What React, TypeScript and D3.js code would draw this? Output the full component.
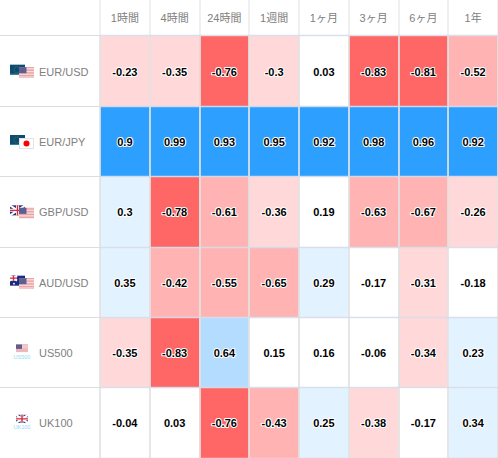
import React from "react";
import * as d3 from "d3";

const columns = ["1時間", "4時間", "24時間", "1週間", "1ヶ月", "3ヶ月", "6ヶ月", "1年"];
const symbols = ["EUR/USD", "EUR/JPY", "GBP/USD", "AUD/USD", "US500", "UK100"];
const eurUsd = [-0.23, -0.35, -0.76, -0.3, 0.03, -0.83, -0.81, -0.52];
const eurJpy = [0.9, 0.99, 0.93, 0.95, 0.92, 0.98, 0.96, 0.92];
const gbpUsd = [0.3, -0.78, -0.61, -0.36, 0.19, -0.63, -0.67, -0.26];
const audUsd = [0.35, -0.42, -0.55, -0.65, 0.29, -0.17, -0.31, -0.18];
const us500 = [-0.35, -0.83, 0.64, 0.15, 0.16, -0.06, -0.34, 0.23];
const uk100 = [-0.04, 0.03, -0.76, -0.43, 0.25, -0.38, -0.17, 0.34];
const rows = [eurUsd, eurJpy, gbpUsd, audUsd, us500, uk100];

const W = 498;
const H = 458;
const color = d3
  .scaleThreshold<number, string>()
  .domain([-0.7, -0.4, -0.2, 0.2, 0.4, 0.7])
  .range(["#ff6666", "#ffb3b3", "#ffd9d9", "#ffffff", "#e3f2ff", "#b3dcff", "#2da0ff"]);
const x = d3.scaleLinear().domain([0, columns.length]).range([100, W]);
const y = d3.scaleLinear().domain([0, rows.length]).range([36, H]);
const FONT = "'Liberation Sans', Arial, sans-serif";
const CJK = "'Liberation Sans', 'Noto Sans CJK JP', sans-serif";

function Eu({ px, py }: { px: number; py: number }) {
  return (
    <g transform={`translate(${px},${py})`}>
      <rect width={15} height={10} fill="#0f4a70" />
      <rect y={9} width={15} height={1} fill="#2d7fa8" />
      <circle cx={7} cy={5} r={3} fill="none" stroke="#6f8a3a" strokeWidth={0.7} strokeDasharray="1 1" />
    </g>
  );
}
function Us({ px, py, w = 15, h = 11 }: { px: number; py: number; w?: number; h?: number }) {
  const n = 7;
  return (
    <g transform={`translate(${px},${py})`}>
      <rect width={w} height={h} fill="#fbeeee" />
      {d3.range(n).map((i) => (
        <rect key={i} y={(i * h) / n} width={w} height={h / (2 * n)} fill="#e58f93" />
      ))}
      <rect width={w * 0.5} height={h * 0.55} fill="#5d5f92" />
    </g>
  );
}
function Jp({ px, py }: { px: number; py: number }) {
  return (
    <g transform={`translate(${px},${py})`}>
      <rect x={0.5} y={0.5} width={14} height={10} fill="#fff" stroke="#e4e4e4" />
      <circle cx={7.5} cy={5.5} r={3} fill="#f00" />
    </g>
  );
}
function Gb({ px, py, w = 15, h = 10 }: { px: number; py: number; w?: number; h?: number }) {
  return (
    <g transform={`translate(${px},${py})`}>
      <rect width={w} height={h} fill="#2b2f78" />
      <path d={`M0 0L${w} ${h}M${w} 0L0 ${h}`} stroke="#fff" strokeWidth={2} />
      <path d={`M${w / 2} 0V${h}M0 ${h / 2}H${w}`} stroke="#fff" strokeWidth={3} />
      <path d={`M${w / 2} 0V${h}M0 ${h / 2}H${w}`} stroke="#d8283c" strokeWidth={1.4} />
    </g>
  );
}
function Au({ px, py }: { px: number; py: number }) {
  return (
    <g transform={`translate(${px},${py})`}>
      <rect width={15} height={10} fill="#1a2a80" />
      <Gb px={0} py={0} w={7} h={5} />
      <circle cx={4} cy={8} r={0.9} fill="#fff" />
      <circle cx={11} cy={3} r={0.7} fill="#fff" />
      <circle cx={12} cy={7} r={0.7} fill="#fff" />
    </g>
  );
}
function Index({ name, cy }: { name: string; cy: number }) {
  return (
    <text x={22} y={cy} textAnchor="middle" fontFamily={FONT} fontSize={5.5} fill="#8fdcf5">
      {name}
    </text>
  );
}

function Flag({ symbol, mid }: { symbol: string; mid: number }) {
  const top = mid - 6.5;
  if (symbol === "EUR/USD")
    return (<><Eu px={10} py={top} /><Us px={19} py={mid - 4} /></>);
  if (symbol === "EUR/JPY")
    return (<><Eu px={10} py={top} /><Jp px={19} py={mid - 3.5} /></>);
  if (symbol === "GBP/USD")
    return (<><Gb px={10} py={top} /><Us px={19} py={mid - 4} /></>);
  if (symbol === "AUD/USD")
    return (<><Au px={10} py={top} /><Us px={19} py={mid - 4} /></>);
  if (symbol === "US500")
    return (<><Us px={16} py={mid - 8} w={12} h={8} /><Index name="US500" cy={mid + 6} /></>);
  return (<><Gb px={16} py={mid - 8} w={12} h={8} /><Index name="UK100" cy={mid + 6} /></>);
}

const colLine = (i: number) => Math.round(x(i));
const rowLine = (r: number) => (r === 0 ? 35.5 : Math.floor(y(r)) + 0.5);

export default function App() {
  return (
    <svg
      width={W}
      height={H}
      viewBox={`0 0 ${W} ${H}`}
      style={{ position: "absolute", left: 0, top: 0, display: "block", background: "#fff" }}
    >
      {columns.map((c, i) => (
        <text
          key={c}
          x={(x(i) + x(i + 1)) / 2}
          y={22}
          textAnchor="middle"
          fontFamily={CJK}
          fontSize={11}
          fill="#808080"
        >
          {c}
        </text>
      ))}
      {rows.map((vals, r) =>
        vals.map((v, i) => (
          <rect
            key={`${r}-${i}`}
            x={x(i)}
            y={y(r)}
            width={x(i + 1) - x(i)}
            height={y(r + 1) - y(r)}
            fill={color(v)}
          />
        ))
      )}
      {d3.range(columns.length + 1).map((i) => (
        <g key={i}>
          <line x1={colLine(i)} x2={colLine(i)} y1={0} y2={36} stroke="#f0f0f0" strokeWidth={2} />
          <line x1={colLine(i)} x2={colLine(i)} y1={36} y2={H} stroke="#e2e2e2" strokeOpacity={0.85} strokeWidth={2} />
        </g>
      ))}
      {d3.range(rows.length + 1).map((r) => (
        <g key={r}>
          <line x1={0} x2={100} y1={rowLine(r)} y2={rowLine(r)} stroke="#dddddd" />
          <line x1={100} x2={W} y1={rowLine(r)} y2={rowLine(r)} stroke="#d6dde8" strokeOpacity={0.9} strokeWidth={1.4} />
        </g>
      ))}
      {rows.map((vals, r) => {
        const mid = (y(r) + y(r + 1)) / 2;
        const base = Math.round(mid + 4.6);
        return (
          <g key={symbols[r]}>
            <Flag symbol={symbols[r]} mid={mid} />
            <text x={39} y={base} fontFamily={FONT} fontSize={11} fill="#808080">
              {symbols[r]}
            </text>
            {vals.map((v, i) => (
              <text
                key={i}
                x={(x(i) + x(i + 1)) / 2}
                y={base}
                textAnchor="middle"
                fontFamily={FONT}
                fontSize={11}
                fontWeight={700}
                fill="#000"
                stroke="#fff"
                strokeWidth={2}
                paintOrder="stroke"
                strokeLinejoin="round"
              >
                {v}
              </text>
            ))}
          </g>
        );
      })}
    </svg>
  );
}
